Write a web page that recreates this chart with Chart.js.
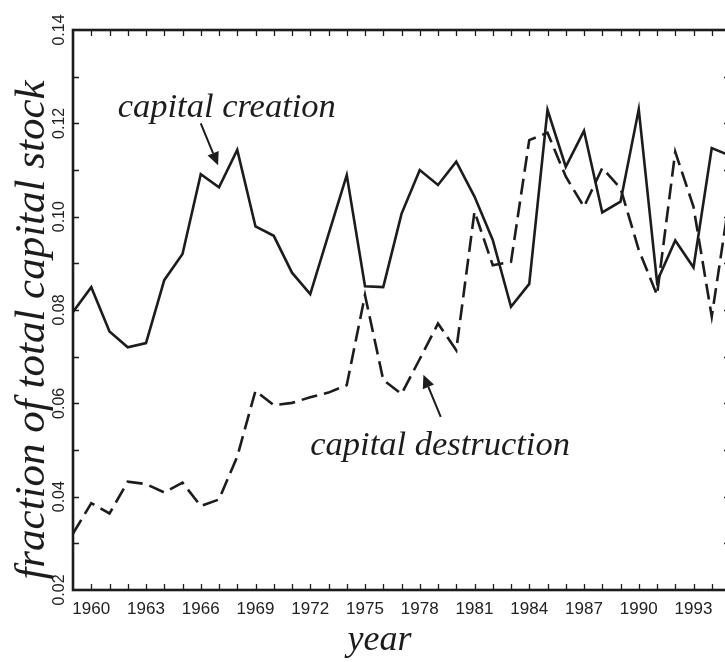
<!DOCTYPE html>
<html>
<head>
<meta charset="utf-8">
<script src="https://cdn.jsdelivr.net/npm/chart.js@4/dist/chart.umd.min.js"></script>
<style>
html,body{margin:0;padding:0;background:#fff;overflow:hidden;}
#wrap{position:relative;width:760px;height:662px;}
</style>
</head>
<body>
<div id="wrap"><canvas id="c"></canvas></div>
<script>
const years = [1959,1960,1961,1962,1963,1964,1965,1966,1967,1968,1969,1970,1971,1972,1973,1974,1975,1976,1977,1978,1979,1980,1981,1982,1983,1984,1985,1986,1987,1988,1989,1990,1991,1992,1993,1994,1995];
const capitalCreation = [0.0796,0.0849,0.0754,0.0720,0.0729,0.0864,0.0920,0.1091,0.1063,0.1143,0.0979,0.0959,0.0880,0.0834,0.0962,0.1089,0.0851,0.0849,0.1006,0.1100,0.1068,0.1118,0.1043,0.0950,0.0807,0.0856,0.1229,0.1107,0.1184,0.1009,0.1032,0.1230,0.0861,0.0949,0.0891,0.1147,0.1131];
const capitalDestruction = [0.0321,0.0386,0.0364,0.0432,0.0427,0.0409,0.0430,0.0380,0.0394,0.0486,0.0627,0.0596,0.0601,0.0613,0.0623,0.0639,0.0832,0.0650,0.0620,0.0695,0.0771,0.0714,0.1011,0.0896,0.0903,0.1164,0.1180,0.1086,0.1021,0.1104,0.1061,0.0929,0.0832,0.1139,0.1021,0.0786,0.1046];
const xTickLabels = [1960,1963,1966,1969,1972,1975,1978,1981,1984,1987,1990,1993];
const yTickLabels = ['0.02','0.04','0.06','0.08','0.10','0.12','0.14'];

const INK = '#1c1c1c';
const serifItalic = (px) => 'italic ' + px + 'px "Liberation Serif", "DejaVu Serif", serif';
const sans = (px) => px + 'px "Liberation Sans", Arial, sans-serif';

function arrow(ctx, x0, y0, x1, y1, head, halfW) {
  const a = Math.atan2(y1 - y0, x1 - x0);
  const bx = x1 - head * Math.cos(a), by = y1 - head * Math.sin(a);
  ctx.beginPath();
  ctx.moveTo(x0, y0); ctx.lineTo(bx, by);
  ctx.lineWidth = 2; ctx.strokeStyle = INK; ctx.stroke();
  ctx.beginPath();
  ctx.moveTo(x1, y1);
  ctx.lineTo(bx + halfW * Math.sin(a), by - halfW * Math.cos(a));
  ctx.lineTo(bx - halfW * Math.sin(a), by + halfW * Math.cos(a));
  ctx.closePath(); ctx.fillStyle = INK; ctx.fill();
}

const framePlugin = {
  id: 'frame',
  afterDraw(chart) {
    const {ctx, chartArea: ca, scales: {x, y}} = chart;
    ctx.save();
    ctx.strokeStyle = INK; ctx.lineWidth = 2.6;
    ctx.strokeRect(ca.left, ca.top, ca.right - ca.left, ca.bottom - ca.top);
    ctx.lineWidth = 1.3;
    ctx.beginPath();
    for (let v = Math.ceil(x.min); v <= x.max; v++) {
      const px = Math.round(x.getPixelForValue(v)) + 0.5;
      if (px <= ca.left + 2 || px >= ca.right - 2) continue;
      ctx.moveTo(px, ca.bottom); ctx.lineTo(px, ca.bottom - 6);
      ctx.moveTo(px, ca.top); ctx.lineTo(px, ca.top + 6);
    }
    for (let i = 2; i <= 14; i++) {
      const v = i / 100;
      const py = Math.round(y.getPixelForValue(v)) + 0.5;
      if (py <= ca.top + 2 || py >= ca.bottom - 2) continue;
      ctx.moveTo(ca.left, py); ctx.lineTo(ca.left + 6, py);
      ctx.moveTo(ca.right, py); ctx.lineTo(ca.right - 6, py);
    }
    ctx.stroke();
    ctx.fillStyle = '#222';
    ctx.font = sans(16);
    ctx.textAlign = 'center'; ctx.textBaseline = 'alphabetic';
    yTickLabels.forEach(t => {
      const py = y.getPixelForValue(parseFloat(t));
      ctx.save();
      ctx.translate(ca.left - 9, py);
      ctx.rotate(-Math.PI / 2);
      ctx.fillText(t, 0, 0);
      ctx.restore();
    });
    ctx.fillStyle = INK;
    ctx.font = serifItalic(36);
    ctx.textAlign = 'center';
    ctx.fillText('year', x.getPixelForValue(1975.8), 650);
    ctx.save();
    ctx.translate(44, 330);
    ctx.rotate(-Math.PI / 2);
    ctx.font = serifItalic(43);
    ctx.fillText('fraction of total capital stock', 0, 0);
    ctx.restore();
    ctx.font = serifItalic(34.5);
    ctx.textAlign = 'left';
    ctx.fillText('capital creation', x.getPixelForValue(1961.45), y.getPixelForValue(0.1214));
    ctx.fillText('capital destruction', x.getPixelForValue(1972.0), y.getPixelForValue(0.0489));
    arrow(ctx, x.getPixelForValue(1966.0), y.getPixelForValue(0.1200),
               x.getPixelForValue(1966.95), y.getPixelForValue(0.1110), 13, 6);
    arrow(ctx, x.getPixelForValue(1979.15), y.getPixelForValue(0.0571),
               x.getPixelForValue(1978.2), y.getPixelForValue(0.0661), 13, 6);
    ctx.restore();
  }
};

new Chart(document.getElementById('c'), {
  type: 'line',
  data: {
    datasets: [
      {
        label: 'capital creation',
        data: years.map((yr, i) => ({x: yr, y: capitalCreation[i]})),
        borderColor: INK, borderWidth: 2.6, pointRadius: 0, tension: 0,
        borderJoinStyle: 'miter', borderCapStyle: 'butt'
      },
      {
        label: 'capital destruction',
        data: years.map((yr, i) => ({x: yr, y: capitalDestruction[i]})),
        borderColor: INK, borderWidth: 2.6, pointRadius: 0, tension: 0,
        borderDash: [16, 7], borderJoinStyle: 'miter', borderCapStyle: 'butt'
      }
    ]
  },
  options: {
    responsive: true,
    maintainAspectRatio: false,
    animation: false,
    events: [],
    layout: {padding: {left: 0, right: 30, top: 30, bottom: 0}},
    plugins: {legend: {display: false}, tooltip: {enabled: false}},
    scales: {
      x: {
        type: 'linear', min: 1959, max: 1995,
        border: {display: false},
        grid: {display: false, drawTicks: false},
        afterFit: s => { s.height = 72; },
        afterBuildTicks: s => { s.ticks = xTickLabels.map(v => ({value: v})); },
        ticks: {
          autoSkip: false, maxRotation: 0, minRotation: 0, padding: 9,
          color: '#222', font: {family: '"Liberation Sans", Arial, sans-serif', size: 17},
          callback: v => String(v)
        }
      },
      y: {
        type: 'linear', min: 0.02, max: 0.14,
        border: {display: false},
        grid: {display: false, drawTicks: false},
        afterFit: s => { s.width = 73; },
        ticks: {display: false, stepSize: 0.01}
      }
    }
  },
  plugins: [framePlugin]
});
</script>
</body>
</html>
